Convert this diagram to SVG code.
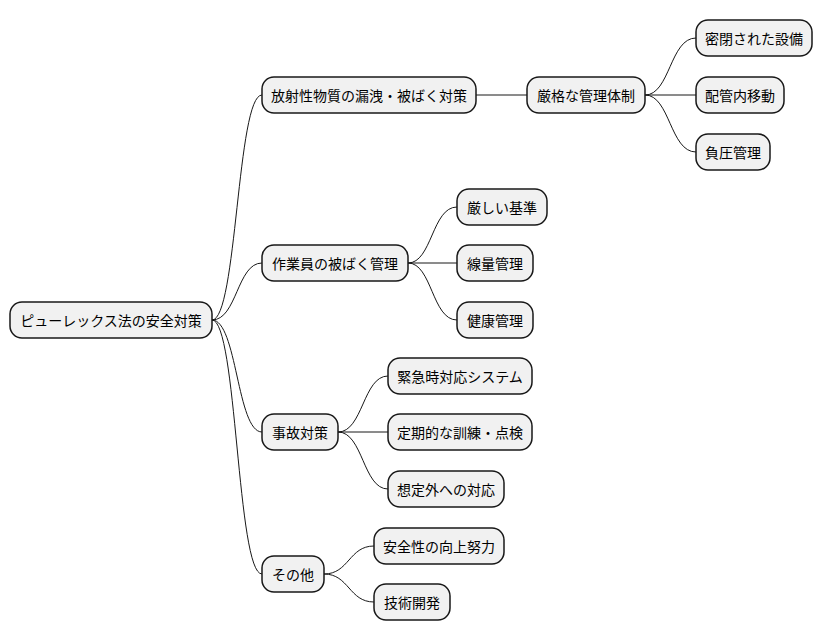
<svg xmlns="http://www.w3.org/2000/svg" width="824" height="640" viewBox="0 0 824 640">
<style>
.n rect{fill:#F1F1F1;stroke:#181818;stroke-width:1.5}
.n text{font-family:"Noto Sans CJK JP","Noto Sans CJK SC",sans-serif;font-size:14px;fill:#000;text-anchor:middle;dominant-baseline:central}
.c path{fill:none;stroke:#181818;stroke-width:1}
</style>
<rect width="824" height="640" fill="#fff"/>
<g class="c">
<path d="M212,320 C237,320 237,95 262,95"/>
<path d="M212,320 C237,320 237,263 262,263"/>
<path d="M212,320 C237,320 237,432 262,432"/>
<path d="M212,320 C237,320 237,574 262,574"/>
<path d="M476,95 L527,95"/>
<path d="M645,95 C670,95 670,38 696,38"/>
<path d="M645,95 L696,95"/>
<path d="M645,95 C670,95 670,152 696,152"/>
<path d="M408,263 C432,263 432,207 457,207"/>
<path d="M408,263 L457,263"/>
<path d="M408,263 C432,263 432,320 457,320"/>
<path d="M338,432 C363,432 363,376 388,376"/>
<path d="M338,432 L388,432"/>
<path d="M338,432 C363,432 363,489 388,489"/>
<path d="M324,574 C349,574 349,546 374,546"/>
<path d="M324,574 C349,574 349,602 374,602"/>
</g>
<g class="n" id="root"><rect x="10" y="302" width="202" height="36" rx="12"/><text x="111" y="320">ピューレックス法の安全対策</text></g>
<g class="n" id="a"><rect x="262" y="77" width="214" height="36" rx="12"/><text x="369" y="95">放射性物質の漏洩・被ばく対策</text></g>
<g class="n" id="a1"><rect x="527" y="77" width="118" height="36" rx="12"/><text x="586" y="95">厳格な管理体制</text></g>
<g class="n" id="a11"><rect x="696" y="20" width="116" height="36" rx="12"/><text x="754" y="38">密閉された設備</text></g>
<g class="n" id="a12"><rect x="696" y="77" width="88" height="36" rx="12"/><text x="740" y="95">配管内移動</text></g>
<g class="n" id="a13"><rect x="696" y="134" width="74" height="36" rx="12"/><text x="733" y="152">負圧管理</text></g>
<g class="n" id="b"><rect x="262" y="245" width="146" height="36" rx="12"/><text x="335" y="263">作業員の被ばく管理</text></g>
<g class="n" id="b1"><rect x="457" y="189" width="90" height="36" rx="12"/><text x="502" y="207">厳しい基準</text></g>
<g class="n" id="b2"><rect x="457" y="245" width="76" height="36" rx="12"/><text x="495" y="263">線量管理</text></g>
<g class="n" id="b3"><rect x="457" y="302" width="76" height="36" rx="12"/><text x="495" y="320">健康管理</text></g>
<g class="n" id="c"><rect x="262" y="414" width="76" height="36" rx="12"/><text x="300" y="432">事故対策</text></g>
<g class="n" id="c1"><rect x="388" y="358" width="144" height="36" rx="12"/><text x="460" y="376">緊急時対応システム</text></g>
<g class="n" id="c2"><rect x="388" y="414" width="144" height="36" rx="12"/><text x="460" y="432">定期的な訓練・点検</text></g>
<g class="n" id="c3"><rect x="388" y="471" width="116" height="36" rx="12"/><text x="446" y="489">想定外への対応</text></g>
<g class="n" id="d"><rect x="262" y="556" width="62" height="36" rx="12"/><text x="293" y="574">その他</text></g>
<g class="n" id="d1"><rect x="374" y="528" width="130" height="36" rx="12"/><text x="439" y="546">安全性の向上努力</text></g>
<g class="n" id="d2"><rect x="374" y="584" width="76" height="36" rx="12"/><text x="412" y="602">技術開発</text></g>
</svg>
